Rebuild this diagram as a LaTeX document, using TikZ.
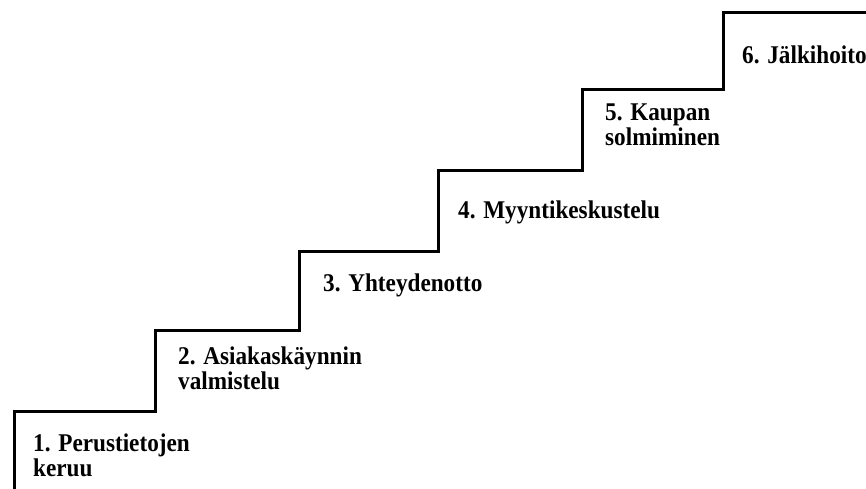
\documentclass[tikz,border=0pt]{standalone}
\usepackage{fontspec}
\setmainfont[FakeStretch=0.91]{Liberation Serif}
\begin{document}
\begin{tikzpicture}[x=1pt,y=-1pt,
  stairline/.style={line width=3pt,line join=miter,black},
  steplabel/.style={anchor=north west,inner sep=0pt,align=left,
    font=\fontsize{25.5}{25}\selectfont\bfseries,text=black}]
\useasboundingbox (0,0) rectangle (866,489);
\begin{scope}
\clip (0,0) rectangle (866,489);
% staircase outline
\coordinate (s0) at (14,495);
\coordinate (s1) at (14,411);
\coordinate (s2) at (155,411);
\coordinate (s3) at (155,330);
\coordinate (s4) at (299,330);
\coordinate (s5) at (299,251);
\coordinate (s6) at (438,251);
\coordinate (s7) at (438,170);
\coordinate (s8) at (582,170);
\coordinate (s9) at (582,90);
\coordinate (s10) at (723,90);
\coordinate (s11) at (723,13);
\coordinate (s12) at (870,13);
\draw[stairline] (s0) -- (s1) -- (s2) -- (s3) -- (s4) -- (s5) -- (s6)
  -- (s7) -- (s8) -- (s9) -- (s10) -- (s11) -- (s12);
\end{scope}
% step labels
\node[steplabel] (l1) at (33,434) {1. Perustietojen\\keruu};
\node[steplabel] (l2) at (178,347) {2. Asiakaskäynnin\\valmistelu};
\node[steplabel] (l3) at (323,274) {3. Yhteydenotto};
\node[steplabel] (l4) at (458,201) {4. Myyntikeskustelu};
\node[steplabel] (l5) at (605,104) {5. Kaupan\\solmiminen};
\node[steplabel] (l6) at (742,46) {6. Jälkihoito};
\end{tikzpicture}
\end{document}
